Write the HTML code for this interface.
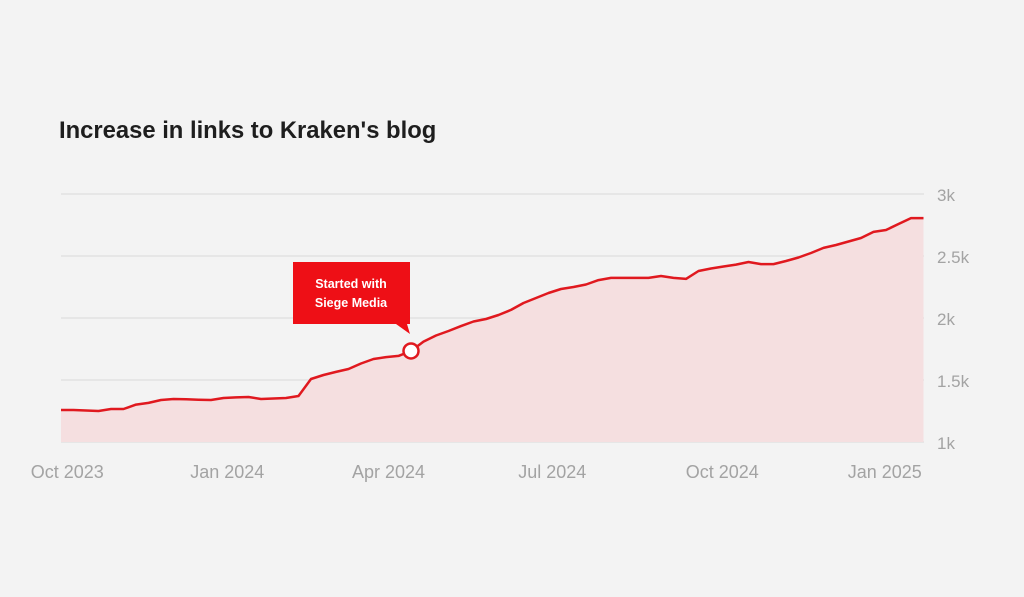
<!DOCTYPE html>
<html><head><meta charset="utf-8"><style>
html,body{margin:0;padding:0;background:#f3f3f3;}
svg{display:block;font-family:"Liberation Sans",sans-serif;}
</style></head><body>
<svg id="chart" width="1024" height="597" viewBox="0 0 1024 597">
<rect width="1024" height="597" fill="#f3f3f3"/>
<text x="59" y="138" font-size="23.8" font-weight="bold" fill="#1e1e1e">Increase in links to Kraken's blog</text>
<g id="grid"></g><g id="area"></g><g id="ylabels"></g><g id="xlabels"></g><g id="callout"></g>
</svg>
<script>
const values=[1258,1258,1254,1250,1266,1266,1302,1315,1339,1347,1344,1341,1339,1355,1360,1363,1347,1351,1355,1371,1508,1540,1565,1589,1633,1669,1685,1694,1734,1810,1859,1895,1935,1972,1992,2024,2065,2121,2161,2202,2234,2250,2270,2306,2323,2323,2323,2323,2339,2323,2315,2379,2399,2415,2431,2452,2435,2435,2460,2488,2524,2565,2589,2617,2645,2694,2710,2758,2806,2806];
const yTicks=[1000,1500,2000,2500,3000];
const yTickLabels=["1k","1.5k","2k","2.5k","3k"];
const xTickLabels=["Oct 2023","Jan 2024","Apr 2024","Jul 2024","Oct 2024","Jan 2025"];
const xTickWeeks=[0.5,13.3,26.2,39.3,52.9,65.9];
const markerIndex=28;
const calloutLines=["Started with","Siege Media"];

const NS="http://www.w3.org/2000/svg";
const X0=61,X1=923.5,Y0=442,Y1=194;
const xs=i=>X0+(X1-X0)*i/(values.length-1);
const ys=v=>Y0-(v-1000)/(3000-1000)*(Y0-Y1);
function mk(tag,attrs,parent){const e=document.createElementNS(NS,tag);for(const k in attrs)e.setAttribute(k,attrs[k]);parent.appendChild(e);return e;}
const grid=document.getElementById('grid'),area=document.getElementById('area'),yl=document.getElementById('ylabels'),xl=document.getElementById('xlabels'),co=document.getElementById('callout');
yTicks.forEach((t,i)=>{
  const l=mk('line',{x1:X0,x2:924,y1:ys(t),y2:ys(t),stroke:'#d8d8d8','stroke-width':1},grid);
  
  
  const tx=mk('text',{x:937,y:ys(t)+7,'font-size':17,fill:'#a3a3a3'},yl);
  tx.textContent=yTickLabels[i];
  
  
});
xTickLabels.forEach((s,i)=>{
  const tx=mk('text',{x:xs(xTickWeeks[i]),y:478,'font-size':18,fill:'#a3a3a3','text-anchor':'middle'},xl);
  tx.textContent=s;
  
  
});
let d=values.map((v,i)=>(i?'L':'M')+xs(i).toFixed(1)+','+ys(v).toFixed(1)).join('');
const fill=mk('path',{d:d+`L${X1},${Y0}L${X0},${Y0}Z`,fill:'#f5dfe0'},area);


const line=mk('path',{d:d,fill:'none',stroke:'#e0191f','stroke-width':2.5,'stroke-linejoin':'round'},area);


const mx=xs(markerIndex),my=ys(values[markerIndex]);
const box=mk('path',{d:`M${mx-118},${my-89}h117v62h-3l3,10l-14,-10h-103z`,fill:'#ee0f16'},co);


calloutLines.forEach((s,i)=>{
  const t=mk('text',{x:mx-60,y:my-63+i*19,'font-size':12.5,'font-weight':'bold',fill:'#fff','text-anchor':'middle'},co);
  t.textContent=s;
  
  
});
const c=mk('circle',{cx:mx,cy:my,r:7.5,fill:'#fff',stroke:'#e0191f','stroke-width':2.5},co);


</script>
</body></html>
